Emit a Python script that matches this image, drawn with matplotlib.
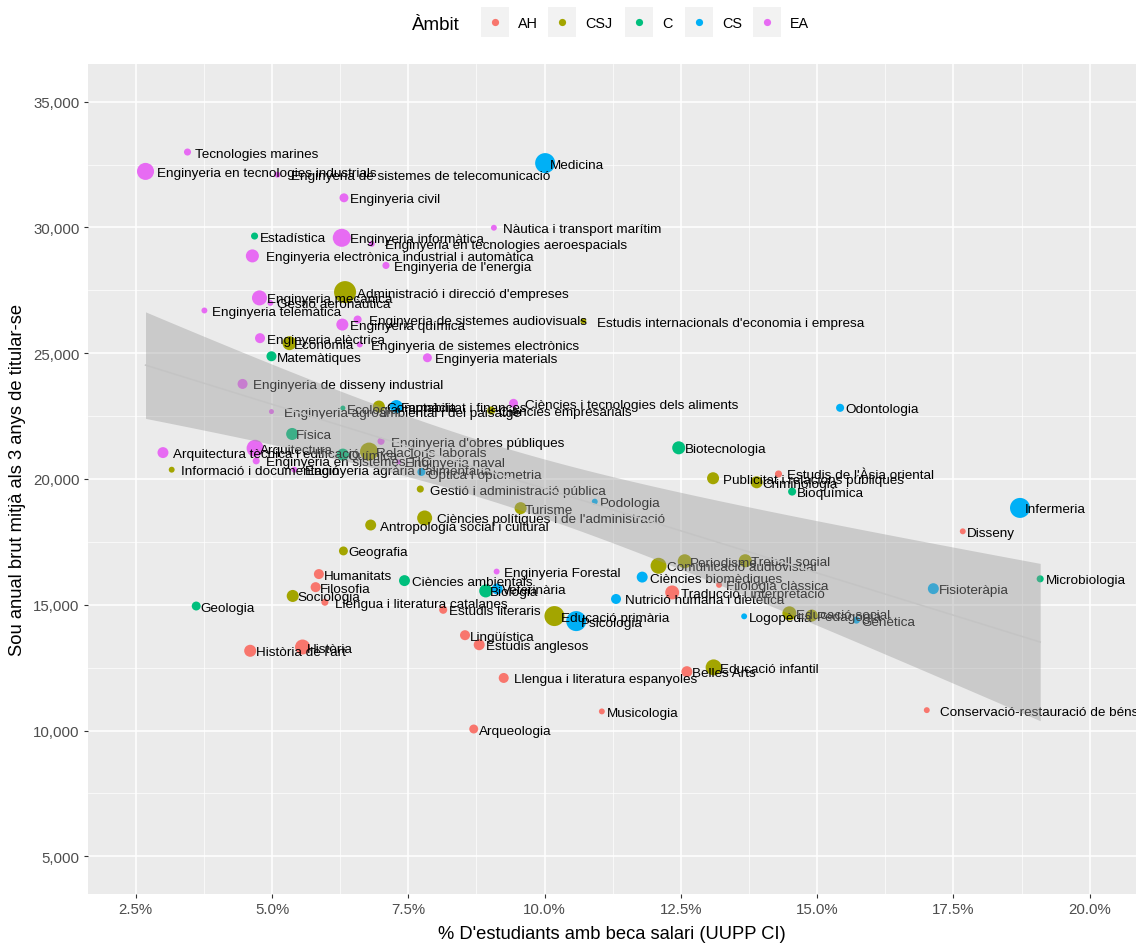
import matplotlib

matplotlib.use("Agg")
import matplotlib.pyplot as plt
import numpy as np
from matplotlib.lines import Line2D
from matplotlib.patches import Rectangle
from matplotlib.ticker import FuncFormatter, MultipleLocator

plt.rcParams["font.family"] = ["Liberation Sans", "DejaVu Sans"]

DPI = 100

estudis = [
    "Tecnologies marines", "Enginyeria en tecnologies industrials",
    "Enginyeria de sistemes de telecomunicació", "Enginyeria civil", "Estadística",
    "Enginyeria informàtica", "Enginyeria electrònica industrial i automàtica",
    "Enginyeria de l'energia", "Administració i direcció d'empreses", "Enginyeria mecànica",
    "Gestió aeronàutica", "Medicina", "Nàutica i transport marítim",
    "Enginyeria en tecnologies aeroespacials", "Enginyeria telemàtica",
    "Enginyeria de sistemes audiovisuals", "Enginyeria química", "Enginyeria elèctrica",
    "Economia", "Enginyeria de sistemes electrònics", "Matemàtiques", "Enginyeria materials",
    "Enginyeria de disseny industrial", "Enginyeria agroambiental i del paisatge", "Ecologia",
    "Comptabilitat i finances", "Farmàcia", "Ciències empresarials",
    "Ciències i tecnologies dels aliments", "Estudis internacionals d'economia i empresa",
    "Odontologia", "Biotecnologia", "Física", "Enginyeria d'obres públiques",
    "Arquitectura tècnica i edificació", "Arquitectura", "Enginyeria en sistemes TIC",
    "Química", "Relacions laborals", "Informació i documentació",
    "Enginyeria agrària i alimentària", "Enginyeria naval", "Òptica i optometria",
    "Gestió i administració pública", "Ciències polítiques i de l'administració",
    "Antropologia social i cultural", "Geografia", "Humanitats", "Ciències ambientals",
    "Filosofia", "Sociologia", "Llengua i literatura catalanes", "Geologia",
    "Estudis literaris", "Història de l'art", "Història", "Turisme", "Podologia",
    "Publicitat i relacions públiques", "Criminologia", "Estudis de l'Àsia oriental",
    "Bioquímica", "Disseny", "Periodisme", "Treball social", "Comunicació audiovisual",
    "Ciències biomèdiques", "Filologia clàssica", "Traducció i interpretació",
    "Nutrició humana i dietètica", "Fisioteràpia", "Logopèdia", "Educació social",
    "Pedagogia", "Genètica", "Educació infantil", "Belles Arts", "Infermeria",
    "Microbiologia", "Conservació-restauració de béns culturals", "Enginyeria Forestal",
    "Biologia", "Veterinària", "Educació primària", "Psicologia", "Lingüística",
    "Estudis anglesos", "Llengua i literatura espanyoles", "Musicologia", "Arqueologia",
]

# % d'estudiants amb beca salari
beca = [
    3.45, 2.68, 5.10, 6.32, 4.68, 6.28, 4.64, 7.09, 6.34, 4.77,
    4.97, 10.01, 9.07, 6.83, 3.76, 6.57, 6.29, 4.78, 5.32, 6.61,
    4.99, 7.85, 4.46, 4.99, 6.30, 6.96, 7.28, 9.02, 9.43, 10.71,
    15.42, 12.46, 5.37, 7.00, 3.00, 4.69, 4.71, 6.30, 6.78, 3.16,
    5.41, 7.32, 7.74, 7.72, 7.80, 6.81, 6.31, 5.86, 7.43, 5.80,
    5.38, 5.97, 3.61, 8.14, 4.60, 5.56, 9.56, 10.92, 13.09, 13.89,
    14.29, 14.54, 17.67, 12.57, 13.68, 12.09, 11.79, 13.20, 12.34, 11.31,
    17.13, 13.66, 14.49, 14.90, 15.72, 13.10, 12.61, 18.72, 19.09, 17.01,
    9.12, 8.92, 9.13, 10.18, 10.58, 8.54, 8.80, 9.25, 11.05, 8.70,
]

# sou anual brut mitjà als 3 anys
sou = [
    33000, 32230, 32100, 31180, 29660, 29590, 28870, 28490, 27430, 27200,
    27000, 32560, 29990, 29350, 26700, 26340, 26140, 25600, 25400, 25350,
    24880, 24820, 23780, 22680, 22820, 22880, 22880, 22720, 23010, 26280,
    22830, 21240, 21790, 21500, 21050, 21220, 20720, 20970, 21090, 20370,
    20370, 20680, 20280, 19600, 18450, 18170, 17140, 16220, 15960, 15700,
    15350, 15100, 14950, 14800, 13170, 13320, 18840, 19100, 20030, 19870,
    20200, 19500, 17920, 16730, 16750, 16550, 16100, 15790, 15490, 15230,
    15640, 14540, 14660, 14570, 14390, 12510, 12340, 18850, 16030, 10810,
    16320, 15550, 15630, 14550, 14350, 13790, 13410, 12090, 10760, 10060,
]

ambit = [
    "EA", "EA", "EA", "EA", "C", "EA", "EA", "EA", "CSJ", "EA",
    "EA", "CS", "EA", "EA", "EA", "EA", "EA", "EA", "CSJ", "EA",
    "C", "EA", "EA", "EA", "C", "CSJ", "CS", "CSJ", "EA", "CSJ",
    "CS", "C", "C", "EA", "EA", "EA", "EA", "C", "CSJ", "CSJ",
    "EA", "EA", "CS", "CSJ", "CSJ", "CSJ", "CSJ", "AH", "C", "AH",
    "CSJ", "AH", "C", "AH", "AH", "AH", "CSJ", "CS", "CSJ", "CSJ",
    "AH", "C", "AH", "CSJ", "CSJ", "CSJ", "CS", "AH", "AH", "CS",
    "CS", "CS", "CSJ", "CSJ", "CS", "CSJ", "AH", "CS", "C", "AH",
    "EA", "C", "CS", "CSJ", "CS", "AH", "AH", "AH", "AH", "AH",
]

# titulats (mida del punt)
titulats = [
    100, 580, 70, 160, 100, 650, 340, 100, 970, 450,
    70, 800, 70, 70, 70, 130, 290, 200, 390, 70,
    200, 160, 200, 50, 50, 290, 340, 130, 160, 70,
    130, 340, 290, 100, 240, 580, 100, 290, 650, 70,
    70, 50, 130, 100, 450, 240, 160, 200, 240, 200,
    290, 100, 160, 130, 290, 450, 290, 70, 290, 290,
    100, 130, 70, 390, 340, 510, 240, 70, 390, 200,
    240, 70, 390, 290, 100, 510, 240, 800, 100, 70,
    70, 340, 240, 800, 800, 200, 240, 200, 70, 160,
]

AMBITS = ["AH", "CSJ", "C", "CS", "EA"]
COLORS = {
    "AH": "#F8766D",
    "CSJ": "#A3A500",
    "C": "#00BF7D",
    "CS": "#00B0F6",
    "EA": "#E76BF3",
}

x = np.array(beca)
y = np.array(sou, dtype=float)
w = np.array(titulats, dtype=float)
diam_px = np.sqrt(w / 2.0)
sizes = (diam_px * 72.0 / DPI) ** 2

fig = plt.figure(figsize=(1136 / DPI, 945 / DPI), dpi=DPI)
fig.patch.set_facecolor("white")
ax = fig.add_axes([88 / 1136, 50 / 945, 1049.5 / 1136, 830 / 945])
ax.set_facecolor("#EBEBEB")

ax.set_xlim(1.625, 20.875)
ax.set_ylim(3500, 36500)

ax.xaxis.set_major_locator(MultipleLocator(2.5))
ax.xaxis.set_minor_locator(MultipleLocator(1.25))
ax.yaxis.set_major_locator(MultipleLocator(5000))
ax.yaxis.set_minor_locator(MultipleLocator(2500))
ax.xaxis.set_major_formatter(FuncFormatter(lambda v, _: f"{v:.1f}%"))
ax.yaxis.set_major_formatter(FuncFormatter(lambda v, _: f"{v:,.0f}"))

ax.grid(which="major", color="white", linewidth=1.1, zorder=0)
ax.grid(which="minor", color="white", linewidth=0.5, zorder=0)
ax.set_axisbelow(True)
for spine in ax.spines.values():
    spine.set_visible(False)
ax.tick_params(which="major", length=3, width=0.8, color="#333333",
               labelsize=10.8, labelcolor="#4D4D4D", pad=3)
ax.tick_params(which="minor", length=0)

ax.scatter(x, y, s=sizes, c=[COLORS[a] for a in ambit], edgecolors="none", zorder=2)

labels = []
for name, xi, yi in zip(estudis, beca, sou):
    ann = ax.annotate(name, (xi, yi), xytext=(0, -1.5), textcoords="offset pixels",
                      ha="left", va="center", fontsize=9.7, color="black", zorder=3)
    labels.append(ann)

# weighted linear fit (by graduates) with 95% confidence band
n = len(x)
x_bar = np.sum(w * x) / np.sum(w)
y_bar = np.sum(w * y) / np.sum(w)
sxx = np.sum(w * (x - x_bar) ** 2)
slope = np.sum(w * (x - x_bar) * (y - y_bar)) / sxx
intercept = y_bar - slope * x_bar
resid = y - (slope * x + intercept)
sigma2 = np.sum(w * resid ** 2) / (n - 2)
xs = np.linspace(x.min(), x.max(), 80)
ys = slope * xs + intercept
se = np.sqrt(sigma2 * (1 / np.sum(w) + (xs - x_bar) ** 2 / sxx))
t_crit = 1.987
ax.fill_between(xs, ys - t_crit * se, ys + t_crit * se, color="#999999", alpha=0.4,
                linewidth=0, zorder=5)
ax.plot(xs, ys, color="#C4C4C4", linewidth=1.1, zorder=6)

ax.set_xlabel("% D'estudiants amb beca salari (UUPP CI)", fontsize=13.2, color="black")
ax.set_ylabel("Sou anual brut mitjà als 3 anys de titular-se", fontsize=13.2, color="black")
ax.xaxis.label.set_va("center")
ax.yaxis.label.set_va("center")
ax.xaxis.set_label_coords((612 - 88) / 1049.5, -(935 - 895) / 830)
ax.yaxis.set_label_coords(-(88 - 18) / 1049.5, 0.5)

# legend along the top
W, H = 1136, 945
fig.text(412 / W, 1 - 25 / H, "Àmbit", fontsize=13.5, ha="left", va="center")
key_left = [481, 548, 625, 685, 753]
for left, a in zip(key_left, AMBITS):
    fig.add_artist(Rectangle((left / W, 1 - 38 / H), 28 / W, 30 / H,
                             transform=fig.transFigure, facecolor="#F2F2F2",
                             edgecolor="none"))
    fig.add_artist(Line2D([(left + 14) / W], [1 - 23 / H], marker="o", markersize=5.2,
                          color=COLORS[a], markeredgewidth=0, transform=fig.transFigure))
    fig.text((left + 37) / W, 1 - 24 / H, a, fontsize=10.4, ha="left", va="center")

# shift each label a bit to the right of its point, proportional to its width
fig.canvas.draw()
for ann in labels:
    tw = ann.get_window_extent().width
    ann.xyann = (2 + 0.045 * tw, -1.5)

fig.savefig("out.png", dpi=DPI)
